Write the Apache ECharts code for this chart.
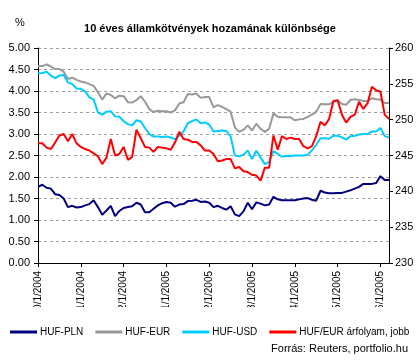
<!DOCTYPE html>
<html><head><meta charset="utf-8">
<script src="https://cdn.jsdelivr.net/npm/echarts@6/dist/echarts.min.js"></script>
<style>html,body{margin:0;padding:0;background:#fff}#c{width:420px;height:364px}</style>
</head><body><div id="c"></div>
<script>
const tickLabels = ['10/1/2004','11/1/2004','12/1/2004','1/1/2005','2/1/2005','3/1/2005','4/1/2005','5/1/2005','6/1/2005'];
const hufPln = [1.77,1.82,1.75,1.73,1.60,1.58,1.50,1.30,1.33,1.29,1.30,1.34,1.37,1.46,1.30,1.12,1.22,1.33,1.09,1.21,
  1.28,1.30,1.32,1.40,1.36,1.18,1.18,1.26,1.34,1.39,1.42,1.40,1.31,1.36,1.37,1.44,1.45,1.47,1.42,1.43,
  1.40,1.30,1.33,1.28,1.24,1.32,1.13,1.09,1.20,1.40,1.25,1.41,1.38,1.34,1.36,1.54,1.48,1.46,1.46,1.46,
  1.46,1.48,1.50,1.51,1.47,1.45,1.68,1.64,1.62,1.62,1.63,1.63,1.66,1.69,1.73,1.77,1.84,1.84,1.84,1.86,
  2.02,1.93,1.93];
const hufEur = [4.58,4.58,4.62,4.57,4.51,4.51,4.45,4.28,4.31,4.26,4.22,4.20,4.16,4.12,3.97,3.80,3.94,3.91,3.83,3.89,
  3.88,3.74,3.73,3.79,3.88,3.75,3.58,3.51,3.54,3.53,3.53,3.50,3.55,3.71,3.74,3.93,3.92,3.94,3.84,3.86,
  3.86,3.62,3.67,3.63,3.58,3.52,3.15,3.05,3.10,3.20,3.08,3.24,3.12,3.05,3.12,3.48,3.40,3.39,3.39,3.39,
  3.32,3.34,3.35,3.40,3.45,3.52,3.70,3.69,3.69,3.75,3.78,3.70,3.68,3.79,3.81,3.79,3.77,3.77,3.83,3.81,
  3.80,3.72,3.72];
const hufUsd = [4.41,4.42,4.45,4.36,4.30,4.36,4.37,4.20,4.16,4.06,4.05,3.99,3.85,3.80,3.50,3.45,3.52,3.53,3.41,3.40,
  3.30,3.23,3.20,3.32,3.29,3.14,3.00,2.94,2.94,2.93,2.94,2.92,2.88,2.96,3.06,3.25,3.30,3.34,3.25,3.27,
  3.22,3.06,3.07,3.08,3.07,2.94,2.50,2.48,2.52,2.62,2.42,2.61,2.45,2.30,2.35,2.60,2.54,2.47,2.49,2.49,
  2.50,2.50,2.50,2.52,2.62,2.75,2.90,2.90,2.89,2.96,2.96,2.92,2.87,2.95,2.96,2.99,3.00,3.00,3.06,3.06,
  3.14,2.95,2.92];
const hufEurRate = [246.7,246.7,246.1,245.9,246.8,247.8,248.0,247.0,248.0,246.7,246.2,245.9,245.7,245.3,244.9,243.8,244.7,247.3,245.0,245.2,
  246.2,244.4,244.8,248.6,247.4,246.2,246.1,245.5,246.2,246.1,246.0,245.8,246.8,248.3,247.3,247.2,246.9,246.9,246.4,245.7,
  245.7,245.2,244.2,244.3,244.5,244.5,243.2,243.4,242.8,242.7,242.3,242.2,241.5,243.3,243.3,247.8,245.8,247.7,247.3,247.5,
  247.3,247.3,246.3,246.0,246.3,247.7,249.7,249.2,250.1,252.6,252.7,250.7,249.6,250.4,250.7,252.5,251.5,252.3,254.6,254.1,
  253.9,250.7,250.1];
const seriesNames = ['HUF-PLN','HUF-EUR','HUF-USD','HUF/EUR árfolyam, jobb'];

const categories = [];
for (let i = 0; i < hufPln.length; i++) categories.push(i % 10 === 0 ? tickLabels[i / 10] : 'p' + i);

const FONT = 'Liberation Sans';
const chart = echarts.init(document.getElementById('c'), null, {renderer: 'canvas'});
const isTick = (i) => i % 10 === 0;
chart.setOption({
  animation: false,
  backgroundColor: '#ffffff',
  title: {
    text: '10 éves államkötvények hozamának különbsége',
    left: 'center', top: 18,
    textStyle: {fontFamily: FONT, fontSize: 11, fontWeight: 'bold', color: '#000'}
  },
  graphic: [
    {type: 'text', left: 15, top: 17, style: {text: '%', fontFamily: FONT, fontSize: 11, fill: '#000'}},
    {type: 'rect', shape: {x: 30, y: 307, width: 370, height: 14}, style: {fill: '#fff'}, z: 100},
    {type: 'text', right: 12, top: 343, style: {text: 'Forrás: Reuters, portfolio.hu', fontFamily: FONT, fontSize: 11, fill: '#000'}}
  ],
  legend: {
    left: 10, top: 327, width: 700, padding: 0, icon: 'rect', itemWidth: 27, itemHeight: 3, itemGap: 12,
    textStyle: {fontFamily: FONT, fontSize: 10, color: '#000', padding: [0, 0, 0, -2]},
    data: seriesNames
  },
  grid: {left: 38, right: 31, top: 48, bottom: 101, containLabel: false},
  xAxis: {
    type: 'category', data: categories, boundaryGap: false,
    axisLine: {lineStyle: {color: '#000', width: 1}},
    axisTick: {interval: isTick, length: 4, lineStyle: {color: '#000'}},
    axisLabel: {interval: isTick, rotate: 90, margin: 8, fontFamily: FONT, fontSize: 10, color: '#000',
      formatter: (v, i) => tickLabels[i / 10] || ''},
    splitLine: {show: false}
  },
  yAxis: [
    {type: 'value', min: 0, max: 5, interval: 0.5, position: 'left',
      axisLine: {show: true, lineStyle: {color: '#000'}},
      axisTick: {show: true, length: 4, lineStyle: {color: '#000'}},
      axisLabel: {formatter: (v) => v.toFixed(2), margin: 8, fontFamily: FONT, fontSize: 11, color: '#000'},
      splitLine: {show: true, lineStyle: {color: '#a0a0a0', type: [3, 3], width: 1}}},
    {type: 'value', min: 230, max: 260, interval: 5, position: 'right',
      axisLine: {show: true, lineStyle: {color: '#000'}},
      axisTick: {show: true, length: 4, lineStyle: {color: '#000'}},
      axisLabel: {margin: 6, fontFamily: FONT, fontSize: 11, color: '#000'},
      splitLine: {show: false}}
  ],
  series: [
    {name: seriesNames[0], type: 'line', data: hufPln, symbol: 'none', color: '#000080', lineStyle: {width: 2}},
    {name: seriesNames[1], type: 'line', data: hufEur, symbol: 'none', color: '#999999', lineStyle: {width: 2}},
    {name: seriesNames[2], type: 'line', data: hufUsd, symbol: 'none', color: '#00ccff', lineStyle: {width: 2}},
    {name: seriesNames[3], type: 'line', data: hufEurRate, yAxisIndex: 1, symbol: 'none', color: '#ff0000', lineStyle: {width: 2}}
  ]
});
</script></body></html>
